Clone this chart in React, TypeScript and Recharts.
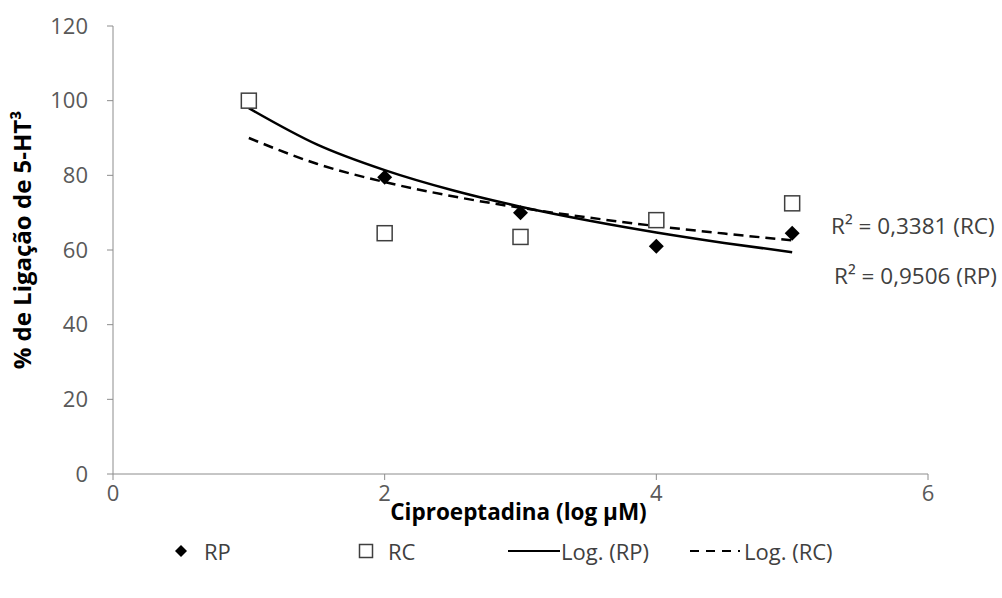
import React from 'react';
import { ComposedChart, Line, Scatter, XAxis, YAxis } from 'recharts';

// measured points
const DOSES = [1, 2, 3, 4, 5];
const RP_VALUES = [100, 79.5, 70, 61, 64.5];
const RC_VALUES = [100, 64.5, 63.5, 68, 72.5];

// log trendlines
const TREND_X = [1, 1.5, 2, 2.5, 3, 3.5, 4, 4.5, 5];
const RP_TREND = [98, 88.3, 81.4, 76, 71.6, 67.9, 64.7, 61.9, 59.4];
const RC_TREND = [90, 83.1, 78.2, 74.4, 71.3, 68.7, 66.4, 64.4, 62.6];

const X_TICKS = [0, 2, 4, 6];
const Y_TICKS = [0, 20, 40, 60, 80, 100, 120];

const R2_LABELS = ['R² = 0,3381 (RC)', 'R² = 0,9506 (RP)'];

const FONT = '"Open Sans", "Noto Sans", sans-serif';
const AXIS_GREY = '#8c8c8c';
const TEXT_SIZE = 22;

const rpPoints = DOSES.map((x, i) => ({ x, y: RP_VALUES[i] }));
const rcPoints = DOSES.map((x, i) => ({ x, y: RC_VALUES[i] }));
const rpTrend = TREND_X.map((x, i) => ({ x, y: RP_TREND[i] }));
const rcTrend = TREND_X.map((x, i) => ({ x, y: RC_TREND[i] }));

const Diamond = ({ cx, cy, r = 7.5 }: any) => (
  <polygon points={`${cx},${cy - r} ${cx + r},${cy} ${cx},${cy + r} ${cx - r},${cy}`} fill="#000" />
);

const Square = ({ cx, cy, s = 15 }: any) => (
  <rect x={cx - s / 2} y={cy - s / 2} width={s} height={s} fill="#fff" stroke="#3f3f3f" strokeWidth={1.5} />
);

const XTitle = ({ viewBox }: any) => (
  <text x={viewBox.x + viewBox.width / 2 - 2} y={520} textAnchor="middle"
    style={{ fontFamily: FONT, fontSize: 22.5, fontWeight: 700, fill: '#000' }}>
    Ciproeptadina (log µM)
  </text>
);

const YTitle = ({ viewBox }: any) => {
  const cx = 21;
  const cy = viewBox.y + viewBox.height / 2 - 10;
  return (
    <text x={cx} y={cy} textAnchor="middle" dominantBaseline="central" transform={`rotate(-90 ${cx} ${cy})`}
      style={{ fontFamily: FONT, fontSize: 24, fontWeight: 700, fill: '#000' }}>
      % de Ligação de 5-HT³
    </text>
  );
};

function ChartLegend() {
  const text = { position: 'absolute' as const, top: 536, fontSize: TEXT_SIZE, color: '#404040', lineHeight: '30px', whiteSpace: 'nowrap' as const };
  return (
    <div style={{ position: 'absolute', left: 0, top: 0, width: 1002, height: 598, fontFamily: FONT }}>
      <svg width={1002} height={598} style={{ position: 'absolute', left: 0, top: 0 }}>
        <Diamond cx={181} cy={551} r={6} />
        <Square cx={366} cy={551} s={13} />
        <line x1={508} x2={560} y1={551} y2={551} stroke="#000" strokeWidth={2} />
        <line x1={690} x2={740} y1={551} y2={551} stroke="#000" strokeWidth={2} strokeDasharray="9 7" />
      </svg>
      <span style={{ ...text, left: 204 }}>RP</span>
      <span style={{ ...text, left: 388 }}>RC</span>
      <span style={{ ...text, left: 561 }}>Log. (RP)</span>
      <span style={{ ...text, left: 744 }}>Log. (RC)</span>
    </div>
  );
}

export default function App() {
  const r2 = { position: 'absolute' as const, fontFamily: FONT, fontSize: 22.5, color: '#404040', whiteSpace: 'nowrap' as const, lineHeight: '30px' };
  return (
    <div style={{ position: 'absolute', left: 0, top: 0, width: 1002, height: 598, background: '#fff' }}>
      <ComposedChart width={1002} height={598} margin={{ top: 26, right: 74, bottom: 84, left: 0 }}
        style={{ fontFamily: FONT }}>
        <XAxis type="number" dataKey="x" domain={[0, 6]} ticks={X_TICKS} height={40}
          stroke={AXIS_GREY} tickSize={6} tickMargin={5} allowDuplicatedCategory={false}
          tick={{ fontSize: TEXT_SIZE, fill: '#595959' }} label={<XTitle />} />
        <YAxis type="number" dataKey="y" domain={[0, 120]} ticks={Y_TICKS} width={113}
          stroke={AXIS_GREY} tickSize={6} tickMargin={19}
          tick={{ fontSize: TEXT_SIZE, fill: '#595959' }} label={<YTitle />} />
        <Line data={rcTrend} dataKey="y" type="monotone" stroke="#000" strokeWidth={2.5}
          strokeDasharray="10 6" dot={false} activeDot={false} isAnimationActive={false} />
        <Line data={rpTrend} dataKey="y" type="monotone" stroke="#000" strokeWidth={2.5}
          dot={false} activeDot={false} isAnimationActive={false} />
        <Scatter data={rpPoints} dataKey="y" shape={(p: any) => <Diamond cx={p.cx} cy={p.cy} />} isAnimationActive={false} />
        <Scatter data={rcPoints} dataKey="y" shape={(p: any) => <Square cx={p.cx} cy={p.cy} />} isAnimationActive={false} />
      </ComposedChart>
      <div style={{ ...r2, left: 831, top: 211 }}>{R2_LABELS[0]}</div>
      <div style={{ ...r2, left: 834, top: 261 }}>{R2_LABELS[1]}</div>
      <ChartLegend />
    </div>
  );
}
